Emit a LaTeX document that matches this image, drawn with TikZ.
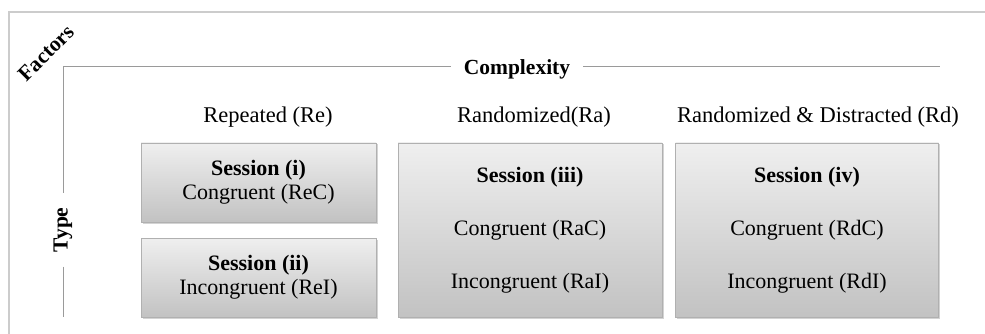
\documentclass[tikz,border=0pt]{standalone}
\usepackage{fontspec}
\setmainfont{Liberation Serif}
\usepackage{tikz}
\usetikzlibrary{positioning,calc,shadows}
\definecolor{FrameGray}{HTML}{CCCCCC}
\definecolor{AxisGray}{HTML}{9A9A9A}
\definecolor{BoxTop}{HTML}{EFEFEF}
\definecolor{BoxBot}{HTML}{C2C2C2}
\definecolor{BoxLine}{HTML}{B0B0B0}

\begin{document}
\begin{tikzpicture}[x=1pt,y=-1pt,font=\fontsize{22}{24}\selectfont,
  sessbox/.style={draw=BoxLine,top color=BoxTop,bottom color=BoxBot,
    drop shadow={shadow xshift=1.5pt,shadow yshift=-1.5pt,opacity=0.35},
    align=center,inner sep=0pt},
  axisline/.style={AxisGray,line width=1pt},
  colhead/.style={font=\fontsize{22.5}{24}\selectfont},
  axislabel/.style={font=\fontsize{21.5}{24}\selectfont\bfseries}]
\useasboundingbox (0,0) rectangle (985,334);
% outer frame, open to the right and bottom
\draw[FrameGray,line width=1.2pt] (9,334) -- (9,12) -- (985,12);
\node[axislabel,rotate=45] (fac) at (46,53) {Factors};
% axes
\coordinate (corner) at (63,67);
\coordinate (hend) at (940,67);
\coordinate (vend) at (63,317);
\node[axislabel,inner xsep=13pt] (cplx) at (517,69) {Complexity};
\node[axislabel,rotate=90,inner xsep=14pt] (typ) at (63,230) {Type};
\draw[axisline] (corner) -- (corner -| cplx.west);
\draw[axisline] (cplx.east |- corner) -- (hend);
\draw[axisline] (corner) -- (typ.east);
\draw[axisline] (typ.west) -- (vend);
% column heads
\foreach \i/\x/\lbl in {Re/268/{Repeated (Re)}, Ra/534/{Randomized(Ra)}, Rd/818/{Randomized \& Distracted (Rd)}} {
  \node[colhead] (hd\i) at (\x,117) {\lbl};
}
% sessions
\node[sessbox,minimum width=235pt,minimum height=79pt] (s1) at (258.5,182.5)
  {{\bfseries Session (i)}\\Congruent (ReC)};
\node[sessbox,minimum width=235pt,minimum height=79pt] (s2) at (258.5,277.5)
  {{\bfseries Session (ii)}\\Incongruent (ReI)};
\node[sessbox,minimum width=264pt,minimum height=174pt] (s3) at (530,230)
  {{\bfseries Session (iii)}\\[29pt]Congruent (RaC)\\[29pt]Incongruent (RaI)};
\node[sessbox,minimum width=263pt,minimum height=174pt] (s4) at (807,230)
  {{\bfseries Session (iv)}\\[29pt]Congruent (RdC)\\[29pt]Incongruent (RdI)};
\end{tikzpicture}
\end{document}
